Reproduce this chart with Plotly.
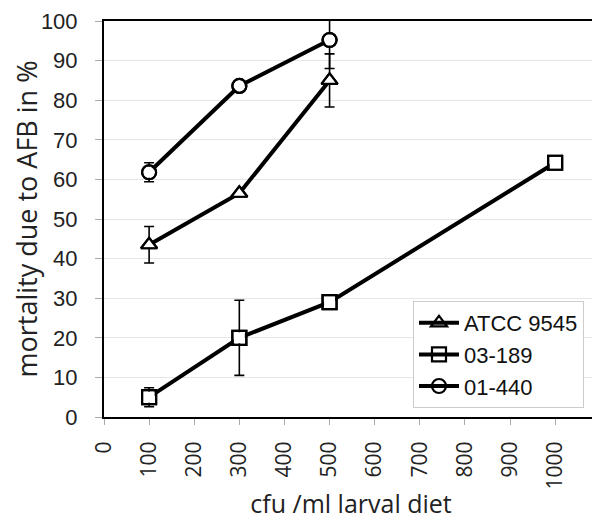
import plotly.graph_objects as go

x_atcc = [100, 300, 500]
y_atcc = [43.5, 56.5, 85.0]
e_atcc = [4.6, 0, 6.7]

x_03 = [100, 300, 500, 1000]
y_03 = [5.0, 20.0, 29.0, 64.2]
e_03 = [2.4, 9.5, 0, 0]

x_01 = [100, 300, 500]
y_01 = [61.8, 83.6, 95.2]
e_01 = [2.4, 0, 7.2]

series = [
    ("ATCC 9545", x_atcc, y_atcc, e_atcc, "triangle-up-open"),
    ("03-189", x_03, y_03, e_03, "square-open"),
    ("01-440", x_01, y_01, e_01, "circle-open"),
]

x_ticks = [0, 100, 200, 300, 400, 500, 600, 700, 800, 900, 1000]
y_ticks = [0, 10, 20, 30, 40, 50, 60, 70, 80, 90, 100]

fig = go.Figure()
for name, xs, ys, es, sym in series:
    fig.add_trace(go.Scatter(
        x=xs, y=ys, name=name, mode="lines+markers", legendgroup=name,
        line=dict(color="black", width=4),
        marker=dict(symbol=sym, size=14, color="black", line=dict(width=2.2, color="black")),
        error_y=dict(type="data", array=es, visible=True, color="black", thickness=1.6, width=5),
        cliponaxis=False,
    ))
# white fill behind open markers
for name, xs, ys, es, sym in series:
    fig.add_trace(go.Scatter(
        x=xs, y=ys, mode="markers", showlegend=False, hoverinfo="skip",
        marker=dict(symbol=sym.replace("-open", ""), size=11, color="white", line=dict(width=0)),
    ))
# re-draw outlines on top
for name, xs, ys, es, sym in series:
    fig.add_trace(go.Scatter(
        x=xs, y=ys, mode="markers", showlegend=False, hoverinfo="skip",
        marker=dict(symbol=sym, size=14, color="black", line=dict(width=2.2, color="black")),
    ))

fig.update_layout(
    width=600, height=521,
    margin=dict(l=96, r=10, t=13, b=112),
    paper_bgcolor="white", plot_bgcolor="white",
    font=dict(family="Liberation Sans, Arial, sans-serif", color="#222", size=22),
    showlegend=True,
    legend=dict(
        x=0.6255, y=0.0227, xanchor="left", yanchor="bottom",
        bordercolor="#cccccc", borderwidth=1, bgcolor="white",
        font=dict(size=22, family="Liberation Sans, Arial, sans-serif", color="#111"),
        tracegroupgap=0, itemwidth=40, traceorder="grouped",
    ),
    xaxis=dict(
        range=[0, 1095], tickvals=x_ticks, ticktext=[str(v) for v in x_ticks],
        tickangle=-90, showgrid=False, zeroline=False, automargin=False,
        showline=True, linecolor="black", linewidth=2, mirror=True,
        ticks="outside", ticklen=6, tickcolor="#aaa", tickwidth=1,
        ticklabelstandoff=8,
        tickfont=dict(family="Open Sans, sans-serif", size=21, color="#222"),
        title=dict(text="cfu /ml larval diet", standoff=7,
                   font=dict(family="Open Sans, sans-serif", size=25, color="#222")),
    ),
    yaxis=dict(
        range=[0, 100], tickvals=y_ticks, showgrid=True, gridcolor="#e6e6e6", gridwidth=1,
        zeroline=False, showline=True, linecolor="black", linewidth=2, mirror=True,
        ticks="outside", ticklen=7, tickcolor="#aaa", tickwidth=1, automargin=False,
        ticklabelstandoff=13,
        tickfont=dict(size=22, color="#222"),
        title=dict(text="mortality due to AFB in %", standoff=17,
                   font=dict(family="Open Sans, sans-serif", size=27, color="#222")),
    ),
)

fig.write_html("out.html")
